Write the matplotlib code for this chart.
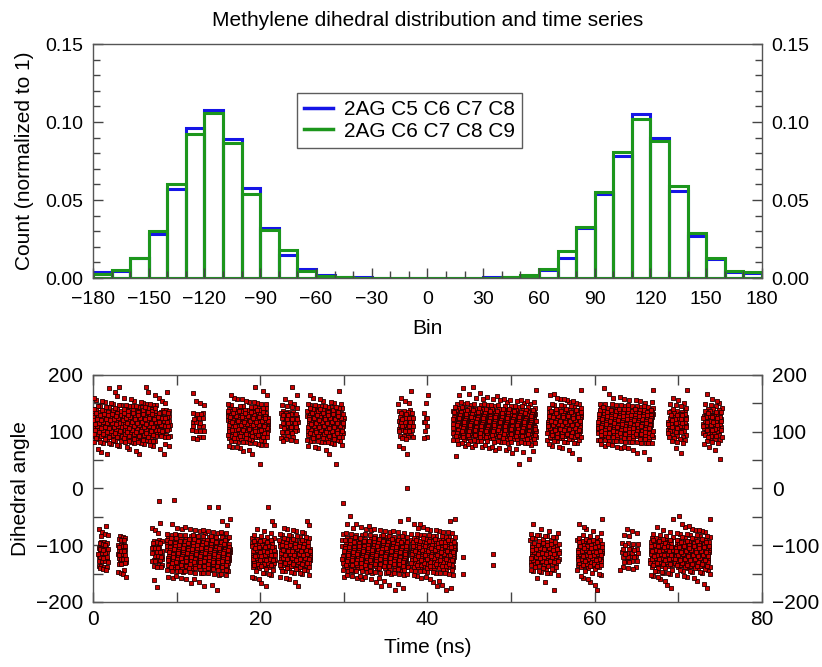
import numpy as np
import matplotlib
matplotlib.use("Agg")
import matplotlib.pyplot as plt
from matplotlib.lines import Line2D
from matplotlib.ticker import MultipleLocator

plt.rcParams["font.family"] = ["Liberation Sans", "DejaVu Sans"]

# --- histogram (10 degree bins, left edges -180 ... 170) ---
bin_edges = np.arange(-180, 181, 10)
count_c5_c8 = [0.0036, 0.0047, 0.013, 0.028, 0.057, 0.096, 0.108, 0.089, 0.058, 0.032,
               0.015, 0.006, 0.0018, 0.0008, 0.0004, 0.0002, 0.0001, 0.0001,
               0.0001, 0.0002, 0.0003, 0.0004, 0.0006, 0.0012, 0.0053, 0.013, 0.032, 0.054,
               0.078, 0.105, 0.090, 0.056, 0.027, 0.012, 0.004, 0.003]
count_c6_c9 = [0.0026, 0.0051, 0.013, 0.030, 0.060, 0.092, 0.106, 0.0865, 0.054, 0.031,
               0.018, 0.0043, 0.001, 0.0006, 0.0003, 0.0001, 0.0001, 0.0001,
               0.0002, 0.0002, 0.0002, 0.0002, 0.0005, 0.002, 0.006, 0.017, 0.033, 0.055,
               0.081, 0.102, 0.088, 0.059, 0.029, 0.013, 0.0047, 0.0038]
labels = ["2AG C5 C6 C7 C8", "2AG C6 C7 C8 C9"]

# --- time series: stretches spent in each well (start ns, end ns, samples) ---
upper_segments = [(0, 3.5, 170), (3.6, 7.6, 210), (7.8, 9.2, 50), (11.8, 13.4, 25),
                  (16.1, 21, 250), (22.4, 24.5, 60), (25.6, 30, 210), (36.5, 38.3, 55),
                  (39.5, 40, 10), (43, 53, 520), (54.3, 58.4, 200), (60.3, 67, 310),
                  (68.7, 71, 75), (72.9, 75.2, 90)]
lower_segments = [(0.6, 1.8, 45), (3, 4, 40), (7, 8.3, 40), (8.8, 16.4, 390),
                  (19, 21.8, 130), (22.3, 26, 170), (29.8, 37.7, 420), (38, 43.3, 290),
                  (52.3, 55.8, 120), (57.9, 60.9, 130), (63, 65.2, 35), (66.6, 69.4, 130),
                  (69.6, 73.8, 200)]
stray_time = [37.6, 7.9, 9.7, 29.9, 14.9, 44.3, 44.3, 47.8, 47.8, 3.1, 12.0, 40.1]
stray_angle = [0, -22, -21, -26, -33, -120, -150, -115, -135, 178, 168, 165]


def well_samples(segments, lo, hi, offset):
    # spread the samples of each stretch over the histogram of that well
    sel = (bin_edges[:-1] >= lo) & (bin_edges[:-1] < hi)
    w = np.array(count_c5_c8)[sel]
    edges = np.append(bin_edges[:-1][sel], bin_edges[:-1][sel][-1] + 10)
    cdf = np.concatenate([[0], np.cumsum(w) / w.sum()])
    ts, angs = [], []
    for k, (a, b, n) in enumerate(segments):
        i = np.arange(n) + offset + 37 * k
        ts.append(a + ((i * 0.7548776662) % 1.0) * (b - a))
        angs.append(np.interp((i * 0.5698402910 + 0.3) % 1.0, cdf, edges))
    return np.concatenate(ts), np.concatenate(angs)


tu, au = well_samples(upper_segments, 30, 180, 1)
tl, al = well_samples(lower_segments, -180, -30, 11)
time = np.concatenate([tu, tl, stray_time])
angle = np.concatenate([au, al, stray_angle])

fig = plt.figure(figsize=(8.22, 6.67), dpi=100)
ax1 = fig.add_axes([0.1131, 0.5832, 0.8139, 0.3508])
ax2 = fig.add_axes([0.1131, 0.0975, 0.8139, 0.3403])

blue, green = "#1515e6", "#1c961c"

# histogram boxes
ax1.bar(bin_edges[:-1], count_c5_c8, width=10, align="edge", fill=False,
        edgecolor=blue, linewidth=2.2)
ax1.bar(bin_edges[:-1], count_c6_c9, width=10, align="edge", fill=False,
        edgecolor=green, linewidth=2.2)
ax1.set_xlim(-180, 180)
ax1.set_ylim(0, 0.15)
ax1.xaxis.set_major_locator(MultipleLocator(30))
ax1.xaxis.set_minor_locator(MultipleLocator(10))
ax1.yaxis.set_minor_locator(MultipleLocator(0.01))
ax1.set_yticks([0, 0.05, 0.10, 0.15])
ax1.set_yticklabels(["0.00", "0.05", "0.10", "0.15"])
ax1.tick_params(axis="both", which="both", direction="in", labelsize=14,
                right=True, labelright=True, top=False, width=1, color="#444444")
ax1.tick_params(axis="x", pad=9)
ax1.tick_params(axis="y", pad=7)
ax1.tick_params(which="major", length=7)
ax1.tick_params(which="minor", length=5)
ax1.set_xlabel("Bin", fontsize=15, labelpad=8)
ax1.set_ylabel("Count (normalized to 1)", fontsize=15, labelpad=8)
ax1.set_title("Methylene dihedral distribution and time series", fontsize=15, pad=13)
handles = [Line2D([], [], color=blue, lw=2.5), Line2D([], [], color=green, lw=2.5)]
leg = ax1.legend(handles, labels, loc="upper left", bbox_to_anchor=(0.305, 0.79),
                 fontsize=15, frameon=True, fancybox=False, handlelength=1.4,
                 borderpad=0.35, labelspacing=0.1, handletextpad=0.5, borderaxespad=0)
leg.get_frame().set_edgecolor("#333333")
leg.get_frame().set_linewidth(1)

# time series
ax2.scatter(time, angle, marker="s", s=11, facecolor="#cc0000",
            edgecolor="#220000", linewidth=0.6, zorder=3)
ax2.set_xlim(0, 80)
ax2.set_ylim(-200, 200)
ax2.xaxis.set_major_locator(MultipleLocator(20))
ax2.xaxis.set_minor_locator(MultipleLocator(10))
ax2.yaxis.set_major_locator(MultipleLocator(100))
ax2.yaxis.set_minor_locator(MultipleLocator(50))
ax2.tick_params(axis="both", which="both", direction="in", labelsize=15,
                right=True, labelright=True, top=True, width=1, color="#444444",
                length=7)
ax2.tick_params(axis="x", pad=6)
ax2.tick_params(axis="y", pad=7)
ax2.set_xlabel("Time (ns)", fontsize=15, labelpad=6)
ax2.set_ylabel("Dihedral angle", fontsize=15, labelpad=4)

for ax in (ax1, ax2):
    for sp in ax.spines.values():
        sp.set_color("#555555")
        sp.set_linewidth(1)

fig.savefig("out.png", dpi=100)
